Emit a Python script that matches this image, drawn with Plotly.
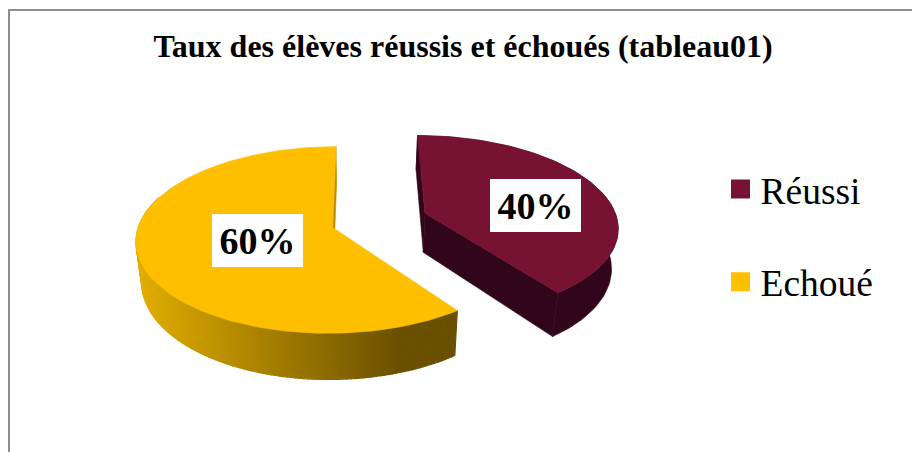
import math
import plotly.graph_objects as go

# --- data ---
categories = ["Réussi", "Echoué"]
values = [40, 60]
labels = ["40%", "60%"]
title_text = "Taux des élèves réussis et échoués (tableau01)"

# --- style ---
top_colors = ["#781232", "#FDBF00"]
legend_colors = ["#781232", "#FFC000"]
FONT = "Liberation Serif"

W, H = 912, 452
VX, VY = 361.0, 228.0      # projection reference
R, RY, K = 194.5, 91.8, 0.134
DEPTH, SHRINK = 40.0, 0.974
CX, CV = 18.5, 0.085       # pie centre in world units
EXPLODE_X, EXPLODE_V = 49.3, 0.256


def project(X, V):
    s = 1.0 / (1.0 + K * V)
    return VX + X * s, VY - RY * V * s, s


def top_pt(X, V):
    x, y, _ = project(X, V)
    return x, y


def bot_pt(X, V):
    x, y, s = project(X, V)
    return VX + (x - VX) * SHRINK, y + DEPTH * s


def poly(pts, color, name=None, width=0.6):
    xs = [p[0] for p in pts] + [pts[0][0]]
    ys = [p[1] for p in pts] + [pts[0][1]]
    return go.Scatter(x=xs, y=ys, mode="lines", fill="toself", fillcolor=color,
                      line=dict(color=color, width=width), hoverinfo="skip" if name is None else "text",
                      text=name, showlegend=False)


def mix(c1, c2, t):
    return "rgb(%d,%d,%d)" % tuple(round(a + (b - a) * t) for a, b in zip(c1, c2))


total = sum(values)
spans = []
start = 0.0
for v in values:
    end = start + 360.0 * v / total
    spans.append((start, end))
    start = end

fig = go.Figure()
centres = []
for (a0, a1) in spans:
    mid = math.radians((a0 + a1) / 2)
    centres.append((CX + EXPLODE_X * math.sin(mid), CV + EXPLODE_V * math.cos(mid)))


def rim(c, deg):
    t = math.radians(deg)
    return c[0] + R * math.sin(t), c[1] + math.cos(t)


# side walls: red first (further away), then yellow
c = centres[0]
a0, a1 = spans[0]
dark_red = "#32061A"
angs = [a0 + (a1 - a0) * i / 80 for i in range(81)]
fig.add_trace(poly([top_pt(*rim(c, a)) for a in angs] + [bot_pt(*rim(c, a)) for a in reversed(angs)], dark_red))
for edge in (a0, a1):
    p = rim(c, edge)
    fig.add_trace(poly([top_pt(*c), top_pt(*p), bot_pt(*p), bot_pt(*c)], dark_red))
fig.add_trace(poly([top_pt(*c)] + [top_pt(*rim(c, a)) for a in angs], top_colors[0], categories[0]))

c = centres[1]
a0, a1 = spans[1]
p = rim(c, a1)
fig.add_trace(poly([top_pt(*c), top_pt(*p), bot_pt(*p), bot_pt(*c)], "#B98C00"))
N = 130
c_light, c_dark = (224, 173, 0), (106, 80, 0)
low, high = 138.0, 400.0
b_start, b_end = a0, 290.0
for i in range(N):
    b0 = b_start + (b_end - b_start) * i / N
    b1 = b_start + (b_end - b_start) * (i + 1) / N
    q0, q1 = rim(c, b0), rim(c, b1)
    xm = (top_pt(*q0)[0] + top_pt(*q1)[0]) / 2
    t = min(1.0, max(0.0, (xm - low) / (high - low)))
    fig.add_trace(poly([top_pt(*q0), top_pt(*q1), bot_pt(*q1), bot_pt(*q0)], mix(c_light, c_dark, t), width=1.2))
angs = [a0 + (a1 - a0) * i / 140 for i in range(141)]
fig.add_trace(poly([top_pt(*c)] + [top_pt(*rim(c, a)) for a in angs], top_colors[1], categories[1]))

# legend entries
for name, col in zip(categories, legend_colors):
    fig.add_trace(go.Scatter(x=[None], y=[None], mode="markers", name=name, legendgroup=name,
                             marker=dict(symbol="square", size=16, color=col,
                                         line=dict(color=col, width=3))))

# percentage labels
label_pos = [(535.5, 205.5), (257.5, 240.5)]
annotations = [dict(x=x, y=y, xref="x", yref="y", text="<b>%s</b>" % t, showarrow=False,
                    font=dict(family=FONT, size=38, color="black"), bgcolor="white",
                    borderpad=7, borderwidth=0, width=77, height=39)
               for t, (x, y) in zip(labels, label_pos)]

fig.update_layout(
    width=W, height=H, autosize=False,
    margin=dict(l=0, r=0, t=0, b=0),
    paper_bgcolor="white", plot_bgcolor="white",
    title=dict(text="<b>%s</b>" % title_text, x=463 / W, xanchor="center", xref="paper",
               y=1 - 45.5 / H, yanchor="middle", yref="container",
               font=dict(family=FONT, size=32, color="black")),
    xaxis=dict(range=[0, W], visible=False, fixedrange=True),
    yaxis=dict(range=[H, 0], visible=False, fixedrange=True),
    legend=dict(x=720.5 / W, y=1 - 158 / H, xanchor="left", yanchor="top",
                font=dict(family=FONT, size=37.5, color="black"),
                tracegroupgap=41, bgcolor="rgba(0,0,0,0)", itemclick=False, itemdoubleclick=False),
    annotations=annotations,
    shapes=[dict(type="path", xref="x", yref="y", path="M 9 452 L 9 10 L 912 10",
                 line=dict(color="#8E8E8E", width=2))],
)
fig.write_html("out.html", config={"displayModeBar": False},
               post_script="document.documentElement.style.overflow='hidden';document.body.style.margin='0';")
